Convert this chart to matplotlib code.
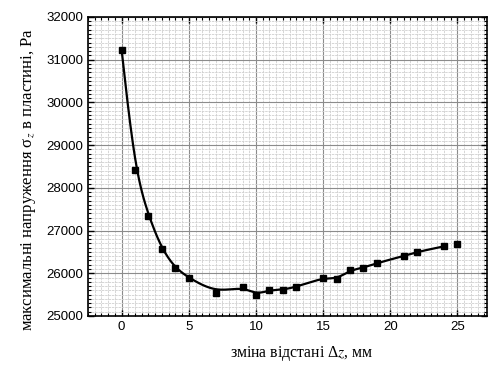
import numpy as np
import matplotlib
matplotlib.use("Agg")
import matplotlib.pyplot as plt
from matplotlib.ticker import MultipleLocator

plt.rcParams["mathtext.fontset"] = "stix"

# data
dz = [0, 1, 2, 3, 4, 5, 7, 9, 10, 11, 12, 13, 15, 16, 17, 18, 19, 21, 22, 24, 25]
sigma = [31230, 28410, 27345, 26560, 26120, 25895, 25545, 25690, 25500, 25605,
         25615, 25680, 25900, 25860, 26070, 26130, 26240, 26400, 26500, 26630, 26680]

x = np.array(dz, dtype=float)
y = np.array(sigma, dtype=float)


def bspline(px, py, n=20):
    # uniform cubic B-spline, ends clamped by repeating end points
    px = np.concatenate([[px[0]] * 2, px, [px[-1]] * 2])
    py = np.concatenate([[py[0]] * 2, py, [py[-1]] * 2])
    u = np.linspace(0, 1, n, endpoint=False)
    b0 = (1 - u) ** 3 / 6
    b1 = (3 * u ** 3 - 6 * u ** 2 + 4) / 6
    b2 = (-3 * u ** 3 + 3 * u ** 2 + 3 * u + 1) / 6
    b3 = u ** 3 / 6
    xs, ys = [], []
    for i in range(len(px) - 3):
        xs.append(b0 * px[i] + b1 * px[i + 1] + b2 * px[i + 2] + b3 * px[i + 3])
        ys.append(b0 * py[i] + b1 * py[i + 1] + b2 * py[i + 2] + b3 * py[i + 3])
    xs.append([px[-1]])
    ys.append([py[-1]])
    return np.concatenate(xs), np.concatenate(ys)


# smooth line runs through the points up to dz = 24
xs, ys = bspline(x[:-1], y[:-1])

fig = plt.figure(figsize=(4.89, 3.67), dpi=100)
ax = fig.add_axes([0.18, 0.139, 0.816, 0.815])

ax.plot(xs, ys, color="black", lw=1.6, zorder=3)
ax.plot(x, y, "s", color="black", ms=5, zorder=4)

ax.set_xlim(-2.5, 27.2)
ax.set_ylim(25000, 32000)
ax.xaxis.set_major_locator(MultipleLocator(5))
ax.xaxis.set_minor_locator(MultipleLocator(0.5))
ax.yaxis.set_major_locator(MultipleLocator(1000))
ax.yaxis.set_minor_locator(MultipleLocator(100))

ax.grid(which="major", color="#8c8c8c", lw=0.8)
ax.grid(which="minor", color="#d0d0d0", lw=0.6, ls=(0, (3, 1)))
ax.set_axisbelow(True)

ax.tick_params(which="both", direction="in", top=True, right=True,
               labelfontfamily="Liberation Sans", labelsize=9.5)
ax.tick_params(which="major", length=4, width=1)
ax.tick_params(which="minor", length=2.5, width=0.8)
for s in ax.spines.values():
    s.set_linewidth(1.2)

ax.set_xlabel("зміна відстані Δ$z$, мм", family="Liberation Serif",
              fontsize=11.3)
ax.set_ylabel("максимальні напруження σ$_z$ в пластині, Pa",
              family="Liberation Serif", fontsize=12)
ax.xaxis.set_label_coords(0.534, -0.095)
ax.yaxis.set_label_coords(-0.125, 0.458)

fig.savefig("out.png", dpi=100)
